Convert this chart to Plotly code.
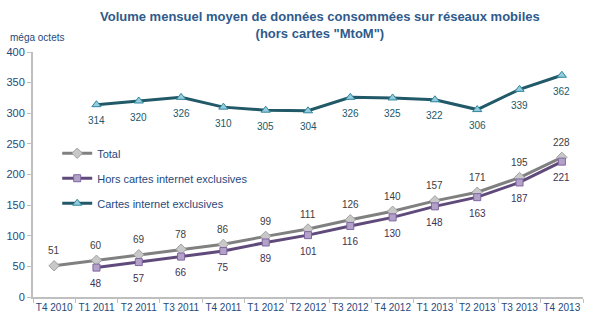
import plotly.graph_objects as go

quarters = ["T4 2010", "T1 2011", "T2 2011", "T3 2011", "T4 2011", "T1 2012", "T2 2012",
            "T3 2012", "T4 2012", "T1 2013", "T2 2013", "T3 2013", "T4 2013"]
total = [51, 60, 69, 78, 86, 99, 111, 126, 140, 157, 171, 195, 228]
hors_cartes = [None, 48, 57, 66, 75, 89, 101, 116, 130, 148, 163, 187, 221]
cartes = [None, 314, 320, 326, 310, 305, 304, 326, 325, 322, 306, 339, 362]

FONT = "Liberation Sans, Arial, sans-serif"
BLUE_TXT = "#1f497d"

fig = go.Figure()
fig.add_trace(go.Scatter(
    x=quarters, y=total, name="Total", mode="lines+markers",
    line=dict(color="#808080", width=3),
    marker=dict(symbol="diamond", size=8, color="#c8c8c8", line=dict(color="#a0a0a0", width=1)),
    legendgroup="a"))
fig.add_trace(go.Scatter(
    x=quarters, y=hors_cartes, name="Hors cartes internet exclusives", mode="lines+markers",
    line=dict(color="#604a7b", width=3),
    marker=dict(symbol="square", size=7, color="#b3a2c7", line=dict(color="#8064a2", width=1)),
    legendgroup="b"))
fig.add_trace(go.Scatter(
    x=quarters, y=cartes, name="Cartes internet exclusives", mode="lines+markers",
    line=dict(color="#215968", width=3),
    marker=dict(symbol="triangle-up", size=8, color="#93cddd", line=dict(color="#31859c", width=1)),
    legendgroup="c"))

# value labels: above the Total line, below the two other series
annotations = []
for values, shift, color in [(total, 15, "#404040"), (hors_cartes, -16, "#3f3151"), (cartes, -16, "#215968")]:
    for q, v in zip(quarters, values):
        if v is None:
            continue
        annotations.append(dict(x=q, y=v, text=str(v), showarrow=False, yshift=shift,
                                font=dict(size=10, color=color, family=FONT)))

annotations += [
    dict(text="<b>Volume mensuel moyen de données consommées sur réseaux mobiles<br>(hors cartes \"MtoM\")</b>",
         xref="paper", yref="paper", x=(320 - 33) / 550, y=1, xanchor="center", yanchor="bottom",
         yshift=9, showarrow=False, font=dict(size=13, color="#2f5a8c", family=FONT)),
    dict(text="méga octets", xref="paper", yref="paper", x=-25 / 550, y=1, xanchor="left",
         yanchor="bottom", yshift=7, showarrow=False, font=dict(size=10, color=BLUE_TXT, family=FONT)),
]

fig.update_layout(
    width=599, height=326,
    margin=dict(l=33, r=16, t=52, b=29),
    paper_bgcolor="white", plot_bgcolor="white",
    font=dict(family=FONT, color=BLUE_TXT, size=11),
    showlegend=True,
    legend=dict(x=0.044, y=0.646, xanchor="left", yanchor="top",
                bgcolor="rgba(0,0,0,0)", font=dict(size=11, color=BLUE_TXT),
                tracegroupgap=6),
    xaxis=dict(type="category", showgrid=False, showline=True, linecolor="#bfbfbf", linewidth=2,
               ticks="outside", tickson="boundaries", ticklen=4, tickcolor="#bfbfbf",
               tickangle=0, automargin=False,
               tickfont=dict(size=10, color=BLUE_TXT), range=[-0.5, 12.5], zeroline=False),
    yaxis=dict(range=[0, 400], dtick=50, showgrid=False, showline=True, linecolor="#bfbfbf",
               linewidth=2, ticks="outside", ticklen=4, tickcolor="#bfbfbf", automargin=False,
               tickfont=dict(size=11, color=BLUE_TXT), zeroline=False),
    annotations=annotations,
)

fig.write_html("out.html")
